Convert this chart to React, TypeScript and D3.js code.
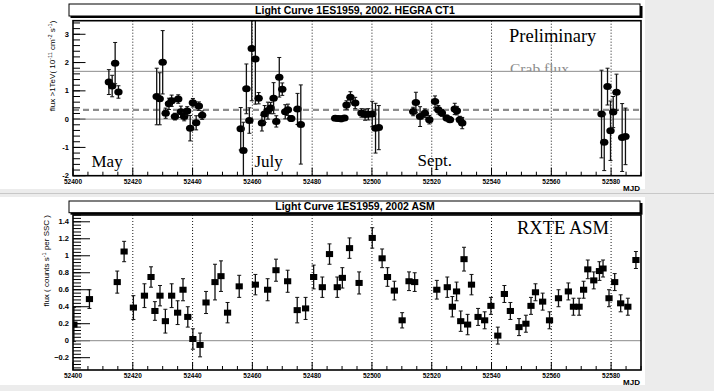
import React from 'react';
import * as d3 from 'd3';

const W = 714, H = 391;

// HEGRA CT1 light curve
const hegraMJD = [52412.0,52413.1,52414.1,52415.2,52428.0,52429.0,52430.0,52431.0,52432.1,52433.0,52434.1,52435.2,52436.1,52437.2,52438.2,52439.2,52440.1,52441.2,52442.1,52443.2,52456.1,52457.0,52458.0,52459.0,52459.8,52461.0,52462.1,52463.2,52464.1,52465.2,52466.1,52467.1,52468.0,52469.0,52470.0,52471.0,52471.9,52473.0,52475.1,52476.2,52487.7,52488.7,52489.7,52490.8,52491.5,52492.8,52494.4,52496.5,52497.7,52498.8,52500.1,52501.2,52502.3,52513.8,52514.7,52516.1,52517.7,52519.2,52521.1,52522.2,52523.4,52525.0,52526.1,52527.7,52528.4,52529.4,52530.2,52576.8,52577.7,52578.8,52579.8,52580.7,52581.8,52583.7,52584.8];
const hegraFlux = [1.31,1.17,1.98,0.96,0.80,0.72,2.01,0.21,0.54,0.65,0.09,0.71,0.26,0.09,0.29,-0.32,0.58,-0.13,0.46,0.14,-0.34,-1.11,1.07,-0.05,2.50,2.13,0.74,-0.14,0.18,0.30,0.39,0.74,-0.08,1.48,1.06,0.26,0.33,0.02,0.36,-0.19,0.03,0.02,0.01,0.04,0.50,0.77,0.57,0.22,0.16,0.17,0.18,-0.32,-0.30,0.27,0.59,0.09,0.21,-0.02,0.62,0.33,0.22,0.04,-0.02,0.36,0.30,-0.02,-0.14,0.18,-0.82,1.15,-0.41,0.25,0.95,-0.65,-0.61];
const hegraErr = [0.44,0.38,0.73,0.22,1.0,0.92,1.12,0.18,0.2,0.2,0.12,0.15,0.2,0.15,0.15,0.45,0.15,0.25,0.15,0.15,0.75,1.0,0.88,0.45,1.85,1.6,0.2,0.28,0.3,0.3,0.2,0.55,0.2,0.7,0.22,0.25,0.2,0.1,0.55,1.4,0.08,0.08,0.1,0.08,0.15,0.2,0.2,0.15,0.2,0.2,0.45,0.88,0.78,0.15,0.36,0.35,0.15,0.15,0.2,0.15,0.12,0.1,0.1,0.2,0.15,0.12,0.2,1.55,1.0,0.65,1.05,0.55,0.64,1.2,1.0];

// RXTE ASM light curve
const asmMJD = [52400.3,52405.5,52414.8,52417.1,52420.2,52423.9,52426.1,52427.4,52429.1,52430.9,52433.0,52435.0,52436.8,52438.4,52440.1,52442.5,52444.5,52447.5,52449.5,52451.7,52455.6,52461.0,52465.1,52467.9,52471.8,52475.0,52477.8,52480.5,52483.4,52485.8,52488.4,52490.1,52492.5,52495.7,52500.1,52503.4,52505.2,52507.5,52510.1,52512.4,52514.3,52521.7,52525.2,52526.9,52528.3,52529.7,52530.8,52532.0,52533.3,52535.5,52537.7,52539.8,52542.1,52544.3,52546.3,52549.2,52551.5,52553.2,52554.7,52557.1,52559.4,52562.4,52565.7,52567.4,52569.3,52570.8,52572.2,52574.2,52576.1,52577.3,52579.3,52581.2,52583.2,52585.6,52588.3];
const asmFlux = [0.19,0.49,0.69,1.05,0.39,0.53,0.75,0.35,0.53,0.23,0.53,0.33,0.60,0.28,0.02,-0.05,0.45,0.69,0.76,0.33,0.64,0.66,0.60,0.83,0.70,0.36,0.38,0.75,0.63,1.02,0.63,0.74,1.09,0.68,1.21,0.97,0.75,0.59,0.24,0.70,0.69,0.60,0.63,0.40,0.58,0.23,0.96,0.19,0.66,0.28,0.24,0.41,0.06,0.55,0.35,0.16,0.20,0.41,0.57,0.46,0.24,0.50,0.58,0.40,0.40,0.60,0.84,0.71,0.82,0.85,0.50,0.69,0.44,0.40,0.95];
const asmErr = [0.2,0.11,0.13,0.12,0.14,0.14,0.12,0.11,0.12,0.14,0.14,0.14,0.13,0.12,0.12,0.14,0.13,0.21,0.18,0.12,0.13,0.12,0.13,0.13,0.13,0.15,0.13,0.14,0.12,0.12,0.12,0.12,0.12,0.13,0.12,0.11,0.11,0.11,0.09,0.11,0.11,0.11,0.12,0.12,0.11,0.12,0.14,0.12,0.12,0.1,0.1,0.1,0.1,0.1,0.1,0.1,0.1,0.1,0.1,0.1,0.1,0.1,0.1,0.1,0.1,0.1,0.11,0.1,0.11,0.1,0.1,0.1,0.1,0.1,0.1];

const xTicks = [52400,52420,52440,52460,52480,52500,52520,52540,52560,52580];
const gridMJD = [52420,52440,52460,52480,52500,52520,52540,52560,52580];
const hegraYTicks = [-2,-1,0,1,2,3];
const asmYTicks = [-0.2,0,0.2,0.4,0.6,0.8,1,1.2,1.4];
const crabFlux = 1.69;
const meanFlux = 0.33;

const SANS = '"Liberation Sans", Arial, Helvetica, sans-serif';
const SERIF = '"Liberation Serif", "Times New Roman", serif';

const FX0 = 73, FX1 = 641;
const x = d3.scaleLinear().domain([52400, 52590]).range([FX0, FX1]);

function TitleBox({ y0, y1, text }: { y0: number; y1: number; text: string }) {
  return (
    <g>
      <rect x={70.5} y={y0 + 2} width={572} height={y1 - y0} fill="#000" />
      <rect x={69} y={y0} width={571} height={y1 - y0} fill="#fff" stroke="#000" strokeWidth={1} />
      <text x={355} y={y1 - 2.5} textAnchor="middle" fontFamily={SANS} fontWeight="bold" fontSize={10.5}>{text}</text>
    </g>
  );
}

function XAxis({ y, fy0, id }: { y: d3.ScaleLinear<number, number>; fy0: number; id: string }) {
  const fy1 = y.range()[0];
  const minor = d3.range(52400, 52591, 5);
  return (
    <g>
      {minor.map((m) => (
        <line key={id + 'mx' + m} x1={x(m)} x2={x(m)} y1={fy1} y2={fy1 - (m % 20 === 0 ? 8 : 4)} stroke="#000" strokeWidth={1} />
      ))}
      {gridMJD.map((m) => (
        <line key={id + 'g' + m} x1={x(m)} x2={x(m)} y1={fy0} y2={fy1} stroke="#000" strokeWidth={0.9} strokeDasharray="1,2" />
      ))}
      {xTicks.map((m) => (
        <text key={id + 'xl' + m} x={x(m)} y={fy1 + 8} textAnchor="middle" fontFamily={SANS} fontWeight="bold" fontSize={6.5}>{m}</text>
      ))}
    </g>
  );
}

function YAxis({ y, ticks, minorStep, majLen, minLen, fmt, id }: any) {
  const [lo, hi] = y.domain();
  const minor: number[] = [];
  for (let v = Math.ceil(lo / minorStep - 1e-6) * minorStep; v <= hi + 1e-9; v += minorStep) minor.push(+v.toFixed(4));
  return (
    <g>
      {minor.map((v) => (
        <line key={id + 'm' + v} x1={FX0} x2={FX0 + minLen} y1={y(v)} y2={y(v)} stroke="#000" strokeWidth={1} />
      ))}
      {ticks.map((v: number) => (
        <g key={id + 't' + v}>
          <line x1={FX0} x2={FX0 + majLen} y1={y(v)} y2={y(v)} stroke="#000" strokeWidth={1} />
          <text x={69} y={y(v) + 2.6} textAnchor="end" fontFamily={SANS} fontWeight="bold" fontSize={7.5}>{fmt(v)}</text>
        </g>
      ))}
    </g>
  );
}

export default function App() {
  // Top panel
  const tY0 = 20.7, tY1 = 175.7;
  const yT = d3.scaleLinear().domain([-2, 3.48]).range([tY1, tY0]);
  // Bottom panel
  const bY0 = 215, bY1 = 370;
  const yB = d3.scaleLinear().domain([-0.345, 1.48]).range([bY1, bY0]);

  const cap = 2;

  return (
    <svg width={W} height={H} style={{ position: 'absolute', left: 0, top: 0, background: '#fff' }} xmlns="http://www.w3.org/2000/svg">
      <defs>
        <clipPath id="clipT"><rect x={FX0} y={tY0} width={FX1 - FX0} height={tY1 - tY0} /></clipPath>
        <clipPath id="clipB"><rect x={FX0} y={bY0} width={FX1 - FX0} height={bY1 - bY0} /></clipPath>
        <clipPath id="clipCrab"><rect x={FX0} y={tY0} width={FX1 - FX0} height={yT(crabFlux) - tY0} /></clipPath>
      </defs>
      {/* background */}
      <rect x={0} y={0} width={W} height={H} fill="#ececec" />
      <rect x={0} y={0} width={645} height={189} fill="#fff" />
      <rect x={0} y={197} width={645} height={188} fill="#fff" />
      <line x1={0} x2={W} y1={193.5} y2={193.5} stroke="#c8c8c8" strokeWidth={1} />

      {/* ===== TOP PANEL ===== */}
      <TitleBox y0={4} y1={16} text="Light Curve 1ES1959, 2002.  HEGRA CT1" />
      <rect x={FX0} y={tY0} width={FX1 - FX0} height={tY1 - tY0} fill="#fff" />
      <XAxis y={yT} fy0={tY0} id="t" />
      <YAxis y={yT} ticks={hegraYTicks} minorStep={0.2} majLen={12.5} minLen={7} fmt={(v: number) => String(v)} id="t" />
      <line x1={FX0} x2={FX1} y1={yT(0)} y2={yT(0)} stroke="#8c8c8c" strokeWidth={1} />
      <line x1={FX0} x2={FX1} y1={yT(crabFlux)} y2={yT(crabFlux)} stroke="#8c8c8c" strokeWidth={1} />
      <line x1={FX0} x2={FX1} y1={yT(meanFlux)} y2={yT(meanFlux)} stroke="#8c8c8c" strokeWidth={2.2} strokeDasharray="6,4" />
      <text x={510} y={73.5} fontFamily={SERIF} fontSize={15.5} fill="#8c8c8c" clipPath="url(#clipCrab)">Crab flux</text>
      <g clipPath="url(#clipT)">
        {hegraMJD.map((m, i) => {
          const cx = x(m), e = hegraErr[i], v = hegraFlux[i];
          return (
            <g key={'h' + i}>
              <line x1={cx} x2={cx} y1={yT(v + e)} y2={yT(v - e)} stroke="#111" strokeWidth={1.3} />
              <line x1={cx - cap} x2={cx + cap} y1={yT(v + e)} y2={yT(v + e)} stroke="#111" strokeWidth={1} />
              <line x1={cx - cap} x2={cx + cap} y1={yT(v - e)} y2={yT(v - e)} stroke="#111" strokeWidth={1} />
              <ellipse cx={cx} cy={yT(v)} rx={4.2} ry={3.5} fill="#000" />
            </g>
          );
        })}
      </g>
      <rect x={FX0} y={tY0} width={FX1 - FX0} height={tY1 - tY0} fill="none" stroke="#000" strokeWidth={1.6} />
      <text x={91.5} y={167} fontFamily={SERIF} fontSize={17}>May</text>
      <text x={254.5} y={167} fontFamily={SERIF} fontSize={17}>July</text>
      <text x={417.5} y={166} fontFamily={SERIF} fontSize={17}>Sept.</text>
      <text x={509} y={42} fontFamily={SERIF} fontSize={18.5}>Preliminary</text>
      <text x={640} y={191} textAnchor="end" fontFamily={SANS} fontWeight="bold" fontSize={8}>MJD</text>
      <text transform={`translate(54.5,${tY0}) rotate(-90)`} textAnchor="end" fontFamily={SANS} fontSize={8}>
        flux &gt;1TeV( 10<tspan fontSize={5.5} dy={-3}>-11</tspan><tspan dy={3}> cm</tspan><tspan fontSize={5.5} dy={-3}>-2</tspan><tspan dy={3}> s</tspan><tspan fontSize={5.5} dy={-3}>-1</tspan><tspan dy={3}>)</tspan>
      </text>

      {/* ===== BOTTOM PANEL ===== */}
      <TitleBox y0={201} y1={212.7} text="Light Curve 1ES1959, 2002 ASM" />
      <rect x={FX0} y={bY0} width={FX1 - FX0} height={bY1 - bY0} fill="#fff" />
      <XAxis y={yB} fy0={bY0} id="b" />
      <YAxis y={yB} ticks={asmYTicks} minorStep={0.04} majLen={17} minLen={8} fmt={(v: number) => (v === 0 ? '0' : v === 1 ? '1' : d3.format('.1f')(v))} id="b" />
      <line x1={FX0} x2={FX1} y1={yB(0)} y2={yB(0)} stroke="#8c8c8c" strokeWidth={1} />
      <g clipPath="url(#clipB)">
        {asmMJD.map((m, i) => {
          const cx = x(m), e = asmErr[i], v = asmFlux[i];
          return (
            <g key={'a' + i}>
              <line x1={cx} x2={cx} y1={yB(v + e)} y2={yB(v - e)} stroke="#111" strokeWidth={1.3} />
              <line x1={cx - cap} x2={cx + cap} y1={yB(v + e)} y2={yB(v + e)} stroke="#111" strokeWidth={1} />
              <line x1={cx - cap} x2={cx + cap} y1={yB(v - e)} y2={yB(v - e)} stroke="#111" strokeWidth={1} />
              <rect x={cx - 3.6} y={yB(v) - 3} width={7.2} height={6} fill="#000" />
            </g>
          );
        })}
      </g>
      <rect x={FX0} y={bY0} width={FX1 - FX0} height={bY1 - bY0} fill="none" stroke="#000" strokeWidth={1.6} />
      <text x={517} y={234} fontFamily={SERIF} fontSize={18.5}>RXTE ASM</text>
      <text x={640} y={385} textAnchor="end" fontFamily={SANS} fontWeight="bold" fontSize={8}>MJD</text>
      <text transform={`translate(49,${bY0}) rotate(-90)`} textAnchor="end" fontFamily={SANS} fontSize={8}>
        flux ( counts s<tspan fontSize={5.5} dy={-3}>-1</tspan><tspan dy={3}> per SSC )</tspan>
      </text>
    </svg>
  );
}
